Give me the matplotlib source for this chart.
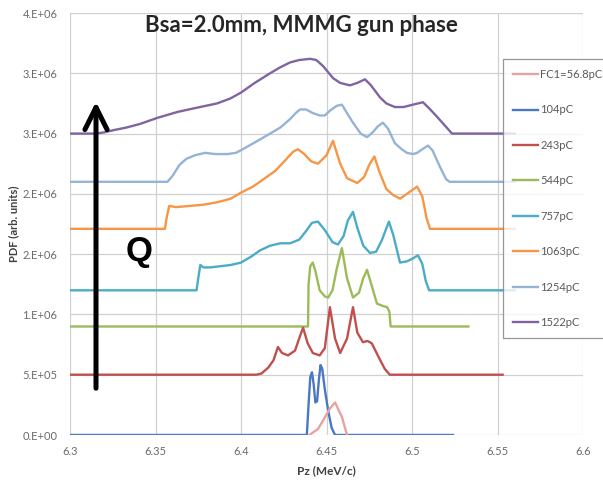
import numpy as np
import matplotlib
matplotlib.use("Agg")
import matplotlib.pyplot as plt

plt.rcParams['font.family'] = ['Lato', 'DejaVu Sans']

# ---- data (Pz in MeV/c, PDF in units of 1e6) ----
labels = ["FC1=56.8pC", "104pC", "243pC", "544pC", "757pC", "1063pC", "1254pC", "1522pC"]
colors = ["#e6a3a2", "#4a78c2", "#c0504d", "#9bbb59", "#4bacc6", "#f79646", "#95b3d7", "#8064a2"]

fc1_x = [6.440, 6.445, 6.448, 6.452, 6.455, 6.459, 6.462]
fc1_y = [0.00, 0.05, 0.12, 0.22, 0.27, 0.15, 0.00]

q104_x = [6.30, 6.4385, 6.4395, 6.4405, 6.4415, 6.4425, 6.4435, 6.4445, 6.4455, 6.4465, 6.4475,
          6.449, 6.451, 6.453, 6.455, 6.524]
q104_y = [0.00, 0.00, 0.25, 0.48, 0.52, 0.42, 0.27, 0.28, 0.45, 0.58, 0.55,
          0.38, 0.20, 0.06, 0.00, 0.00]

q243_x = [6.30, 6.409, 6.412, 6.416, 6.419, 6.4216, 6.424, 6.4275, 6.4316, 6.434, 6.4363, 6.439,
          6.442, 6.446, 6.449, 6.452, 6.455, 6.458, 6.462, 6.4655, 6.468, 6.4713, 6.474, 6.4765,
          6.480, 6.484, 6.487, 6.553]
q243_y = [0.50, 0.50, 0.51, 0.56, 0.62, 0.73, 0.68, 0.66, 0.70, 0.80, 0.89, 0.76,
          0.68, 0.66, 0.72, 1.06, 0.80, 0.68, 0.80, 1.06, 0.85, 0.77, 0.78, 0.76,
          0.66, 0.55, 0.50, 0.50]

q544_x = [6.30, 6.4392, 6.4395, 6.4405, 6.442, 6.4435, 6.446, 6.449, 6.451, 6.4535, 6.456, 6.459,
          6.462, 6.4655, 6.469, 6.4715, 6.4737, 6.476, 6.4795, 6.483, 6.4855, 6.4868, 6.4875, 6.533]
q544_y = [0.90, 0.90, 1.25, 1.40, 1.43, 1.36, 1.20, 1.15, 1.14, 1.20, 1.38, 1.55,
          1.30, 1.14, 1.18, 1.30, 1.37, 1.26, 1.09, 1.07, 1.06, 1.02, 0.90, 0.90]

q757_x = [6.30, 6.374, 6.375, 6.3762, 6.378, 6.382, 6.388, 6.394, 6.400, 6.406, 6.411, 6.417,
          6.423, 6.4287, 6.434, 6.438, 6.4415, 6.445, 6.449, 6.4535, 6.4567, 6.460, 6.4625, 6.4655,
          6.468, 6.4715, 6.4754, 6.479, 6.4825, 6.4865, 6.489, 6.493, 6.497, 6.500, 6.5035, 6.506,
          6.508, 6.510, 6.56]
q757_y = [1.20, 1.20, 1.30, 1.41, 1.39, 1.39, 1.40, 1.41, 1.43, 1.48, 1.53, 1.57,
          1.59, 1.59, 1.62, 1.69, 1.76, 1.77, 1.70, 1.60, 1.58, 1.65, 1.78, 1.85,
          1.72, 1.57, 1.51, 1.52, 1.62, 1.77, 1.66, 1.43, 1.44, 1.46, 1.49, 1.42,
          1.28, 1.20, 1.20]

q1063_x = [6.30, 6.3555, 6.3565, 6.358, 6.362, 6.370, 6.378, 6.386, 6.394, 6.400, 6.407, 6.414,
           6.420, 6.426, 6.4305, 6.4333, 6.437, 6.441, 6.445, 6.450, 6.4538, 6.458, 6.462, 6.468,
           6.472, 6.475, 6.478, 6.481, 6.485, 6.489, 6.493, 6.497, 6.500, 6.503, 6.506, 6.5085,
           6.5105, 6.56]
q1063_y = [1.71, 1.71, 1.80, 1.90, 1.89, 1.90, 1.91, 1.93, 1.96, 2.01, 2.06, 2.13,
           2.19, 2.28, 2.35, 2.37, 2.33, 2.27, 2.25, 2.32, 2.44, 2.25, 2.13, 2.09,
           2.14, 2.24, 2.31, 2.18, 2.04, 1.99, 1.96, 2.00, 2.03, 2.06, 1.98, 1.80,
           1.71, 1.71]

q1254_x = [6.30, 6.357, 6.360, 6.364, 6.368, 6.373, 6.379, 6.385, 6.392, 6.397, 6.401, 6.406,
           6.411, 6.417, 6.423, 6.4287, 6.432, 6.4345, 6.438, 6.442, 6.446, 6.449, 6.452, 6.456,
           6.459, 6.462, 6.4655, 6.470, 6.4737, 6.477, 6.480, 6.483, 6.486, 6.490, 6.494, 6.497,
           6.5006, 6.503, 6.506, 6.5094, 6.512, 6.5165, 6.520, 6.522, 6.56]
q1254_y = [2.10, 2.10, 2.15, 2.24, 2.29, 2.32, 2.34, 2.33, 2.33, 2.34, 2.37, 2.41,
           2.45, 2.50, 2.55, 2.62, 2.67, 2.70, 2.70, 2.67, 2.65, 2.65, 2.69, 2.73,
           2.74, 2.67, 2.59, 2.50, 2.47, 2.51, 2.56, 2.59, 2.54, 2.42, 2.37, 2.34,
           2.33, 2.34, 2.37, 2.40, 2.36, 2.22, 2.12, 2.10, 2.10]

q1522_x = [6.30, 6.315, 6.320, 6.326, 6.333, 6.341, 6.351, 6.363, 6.376, 6.386, 6.3936, 6.400,
           6.408, 6.417, 6.423, 6.4287, 6.434, 6.4404, 6.444, 6.448, 6.4538, 6.458, 6.4637, 6.468,
           6.4725, 6.476, 6.4813, 6.485, 6.490, 6.495, 6.5006, 6.5064, 6.510, 6.5146, 6.519, 6.5234,
           6.56]
q1522_y = [2.50, 2.50, 2.51, 2.53, 2.55, 2.58, 2.63, 2.68, 2.72, 2.75, 2.79, 2.84,
           2.92, 3.00, 3.05, 3.09, 3.11, 3.12, 3.11, 3.06, 2.96, 2.92, 2.90, 2.92,
           2.95, 2.90, 2.80, 2.75, 2.72, 2.72, 2.74, 2.76, 2.71, 2.64, 2.57, 2.50,
           2.50]

series_x = [fc1_x, q104_x, q243_x, q544_x, q757_x, q1063_x, q1254_x, q1522_x]
series_y = [fc1_y, q104_y, q243_y, q544_y, q757_y, q1063_y, q1254_y, q1522_y]

x_ticks = [6.3, 6.35, 6.4, 6.45, 6.5, 6.55, 6.6]
x_tick_labels = ["6.3", "6.35", "6.4", "6.45", "6.5", "6.55", "6.6"]
y_ticks = [0, 0.5e6, 1.0e6, 1.5e6, 2.0e6, 2.5e6, 3.0e6, 3.5e6]
y_tick_labels = ["0.E+00", "5.E+05", "1.E+06", "2.E+06", "2.E+06", "3.E+06", "3.E+06", "4.E+06"]

# ---- plot ----
fig = plt.figure(figsize=(6.03, 4.82), dpi=100)
ax = fig.add_axes([70 / 603, 1 - 435 / 482, 513 / 603, 422 / 482])

# draw the high-charge curves first so the pink one ends up on top of the blue baseline
order = [7, 6, 5, 4, 3, 2, 1, 0]
lines = {}
for i in order:
    ln, = ax.plot(series_x[i], np.array(series_y[i]) * 1e6, color=colors[i],
                  linewidth=1.7, label=labels[i], zorder=3 + (8 - i) * 0.01)
    lines[i] = ln

ax.set_xlim(6.3, 6.6)
ax.set_ylim(0, 3.5e6)
ax.set_xticks(x_ticks)
ax.set_xticklabels(x_tick_labels)
ax.set_yticks(y_ticks)
ax.set_yticklabels(y_tick_labels)
ax.tick_params(length=0, labelsize=8, labelcolor="#6a6a6a")
ax.tick_params(axis="y", pad=9)
ax.tick_params(axis="x", pad=8)
ax.grid(True, color="#d0d0d0", linewidth=0.9)
ax.set_axisbelow(True)
for s in ax.spines.values():
    s.set_visible(False)

ax.set_xlabel("Pz (MeV/c)", fontsize=8.5, fontweight="bold", color="#404040")
ax.xaxis.set_label_coords(0.5, -0.072)
ax.set_ylabel("PDF (arb. units)", fontsize=8, fontweight="bold", color="#404040")
ax.yaxis.set_label_coords(-0.1, 0.5)

fig.text(301 / 603, 1 - 25 / 482, "Bsa=2.0mm, MMMG gun phase", ha="center", va="center",
         fontsize=16, fontweight="bold", color="#262626")

# charge arrow
ax.annotate("", xy=(96 / 603, 1 - 99 / 482), xytext=(96 / 603, 1 - 391 / 482),
            xycoords="figure fraction", textcoords="figure fraction",
            arrowprops=dict(arrowstyle="->, head_length=0.8, head_width=0.4",
                            mutation_scale=20, lw=3.6, color="black"), zorder=6)
fig.text(139 / 603, 1 - 252 / 482, "Q", ha="center", va="center", fontsize=25,
         fontweight="bold", family=["Liberation Sans", "DejaVu Sans"], color="black")

handles = [lines[i] for i in range(8)]
leg = fig.legend(handles, labels, loc="upper left", bbox_to_anchor=(503 / 603, 1 - 59 / 482),
                 fontsize=8, labelcolor="#595959", frameon=True, fancybox=False,
                 edgecolor="#7f7f7f", labelspacing=2.2, handlelength=2.25,
                 handletextpad=0.2, borderpad=0.9, borderaxespad=0)
leg.get_frame().set_linewidth(0.9)

fig.savefig("out.png", dpi=100)
